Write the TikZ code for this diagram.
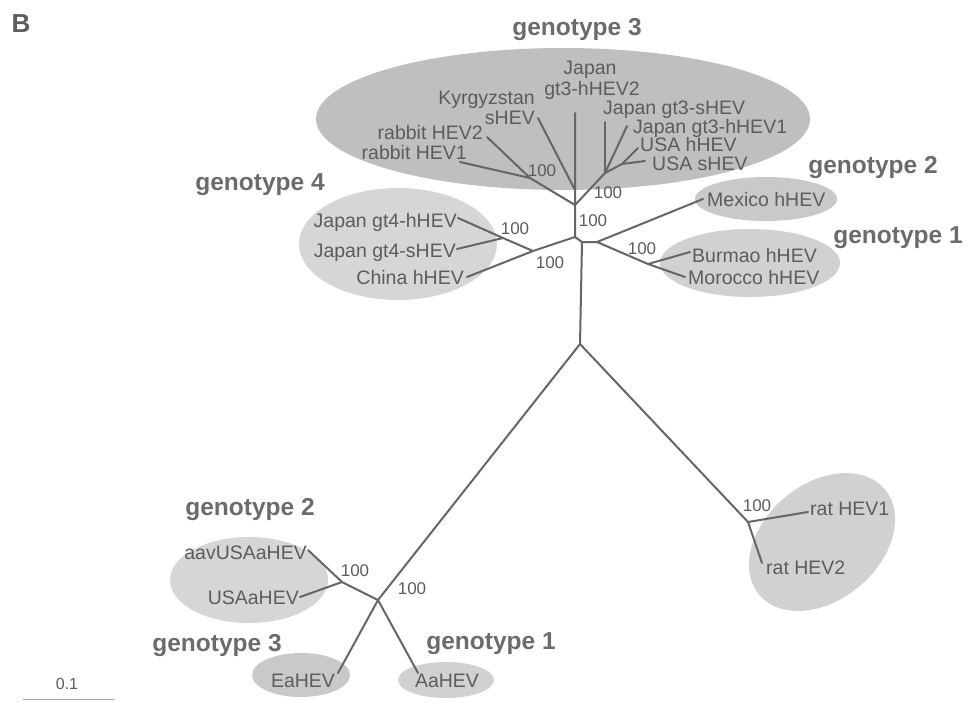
\documentclass[tikz,border=0pt]{standalone}
\usepackage{fontspec}
\setmainfont{Liberation Sans}
\definecolor{txtgray}{gray}{0.36}
\definecolor{genogray}{gray}{0.42}
\definecolor{linegray}{gray}{0.40}
\definecolor{fillA}{gray}{0.75}
\definecolor{fillB}{gray}{0.84}
\definecolor{fillC}{gray}{0.79}
\definecolor{fillD}{gray}{0.82}
\begin{document}
\begin{tikzpicture}[x=1pt,y=-1pt,
  lbl/.style={inner sep=0pt, text=txtgray, font=\fontsize{19.5}{22}\selectfont, text height=14pt, text depth=0pt},
  num/.style={inner sep=0pt, text=txtgray, font=\fontsize{17}{19}\selectfont, text height=12.2pt, text depth=0pt},
  geno/.style={inner sep=0pt, text=genogray, font=\bfseries\fontsize{24.5}{27}\selectfont, text height=17.6pt, text depth=0pt},
  br/.style={draw=linegray, line width=2pt, line cap=round, line join=round}]
\useasboundingbox (0,0) rectangle (968,702);
\fill[white] (0,0) rectangle (968,702);

% clade ellipses
\fill[fillA] (563,119) ellipse [x radius=247, y radius=71];
\fill[fillB] (398,244) ellipse [x radius=99, y radius=56];
\fill[fillC] (766,199) ellipse [x radius=71, y radius=22];
\fill[fillD] (750,263) ellipse [x radius=90, y radius=34];
\fill[fillD, rotate around={40:(822,542)}] (822,542) ellipse [x radius=82pt, y radius=58pt];
\fill[fillB] (249,580) ellipse [x radius=79, y radius=43];
\fill[fillC] (301,675) ellipse [x radius=49, y radius=22];
\fill[fillD] (446,680) ellipse [x radius=48, y radius=18];

% tree coordinates
\coordinate (T) at (580,344);
\coordinate (C1) at (582,242);
\coordinate (C0) at (575,237);
\coordinate (C2) at (597,242);
\coordinate (G3) at (575,205);
\coordinate (J1) at (575,190);
\coordinate (Rb) at (530,178);
\coordinate (lRb1) at (460,162);
\coordinate (lRb2) at (487,137);
\coordinate (lKy) at (538,118);
\coordinate (lJ2) at (575,113);
\coordinate (J3) at (605,173);
\coordinate (lJs) at (605,122);
\coordinate (lJh1) at (627,126);
\coordinate (J4) at (622,164);
\coordinate (lUh) at (638,148);
\coordinate (lUs) at (645,161);
\coordinate (G4) at (533,251);
\coordinate (G4a) at (503,238);
\coordinate (lJ4h) at (458,218);
\coordinate (lJ4s) at (457,249);
\coordinate (lCh) at (467,277);
\coordinate (lMx) at (703,199);
\coordinate (G1) at (648,264);
\coordinate (lBu) at (690,252);
\coordinate (lMo) at (685,277);
\coordinate (A) at (378,600);
\coordinate (A2) at (342,582);
\coordinate (lAav) at (308,550);
\coordinate (lUSAa) at (300,597);
\coordinate (lEa) at (338,673);
\coordinate (lAa) at (418,673);
\coordinate (Rt) at (748,522);
\coordinate (lR1) at (808,512);
\coordinate (lR2) at (762,563);

% branches
\draw[br] (lJ2) -- (G3) -- (C0) -- (C1) -- (T);
\draw[br] (lKy) -- (J1);
\draw[br] (lRb1) -- (Rb) -- (G3);
\draw[br] (lRb2) -- (Rb);
\draw[br] (G3) -- (J3) -- (J4) -- (lUs);
\draw[br] (J3) -- (lJs);
\draw[br] (J3) -- (lJh1);
\draw[br] (J4) -- (lUh);
\draw[br] (C0) -- (G4) -- (lCh);
\draw[br] (G4) -- (G4a) -- (lJ4h);
\draw[br] (G4a) -- (lJ4s);
\draw[br] (C1) -- (C2) -- (lMx);
\draw[br] (C2) -- (G1) -- (lMo);
\draw[br] (G1) -- (lBu);
\draw[br] (T) -- (A) -- (A2) -- (lAav);
\draw[br] (A2) -- (lUSAa);
\draw[br] (A) -- (lEa);
\draw[br] (A) -- (lAa);
\draw[br] (T) -- (Rt) -- (lR1);
\draw[br] (Rt) -- (lR2);

% leaf labels
\node[lbl, anchor=east] (tRb1) at (467,152) {rabbit HEV1};
\node[lbl, anchor=east] (tRb2) at (483,132) {rabbit HEV2};
\node[lbl, anchor=east] (tKy1) at (535,97) {Kyrgyzstan};
\node[lbl, anchor=east] (tKy2) at (535,117) {sHEV};
\node[lbl] (tJ2a) at (590,67) {Japan};
\node[lbl] (tJ2b) at (592,88) {gt3-hHEV2};
\node[lbl, anchor=west] (tJs) at (603,107) {Japan gt3-sHEV};
\node[lbl, anchor=west] (tJh1) at (633,126) {Japan gt3-hHEV1};
\node[lbl, anchor=west] (tUh) at (640,144) {USA hHEV};
\node[lbl, anchor=west] (tUs) at (652,163) {USA sHEV};
\node[lbl, anchor=east] (tJ4h) at (457,220) {Japan gt4-hHEV};
\node[lbl, anchor=east] (tJ4s) at (456,250) {Japan gt4-sHEV};
\node[lbl, anchor=east] (tCh) at (464,277) {China hHEV};
\node[lbl, anchor=west] (tMx) at (707,199) {Mexico hHEV};
\node[lbl, anchor=west] (tBu) at (692,255) {Burmao hHEV};
\node[lbl, anchor=west] (tMo) at (688,277) {Morocco hHEV};
\node[lbl, anchor=west] (tR1) at (810,508) {rat HEV1};
\node[lbl, anchor=west] (tR2) at (766,567) {rat HEV2};
\node[lbl, anchor=east] (tAav) at (307,552) {aavUSAaHEV};
\node[lbl, anchor=east] (tUSAa) at (299,597) {USAaHEV};
\node[lbl] (tEa) at (303,680) {EaHEV};
\node[lbl] (tAa) at (447,680) {AaHEV};

% bootstrap values
\node[num] (b1) at (542,170) {100};
\node[num] (b2) at (608,192) {100};
\node[num] (b3) at (593,220) {100};
\node[num] (b4) at (515,228) {100};
\node[num] (b5) at (550,262) {100};
\node[num] (b6) at (642,248) {100};
\node[num] (b7) at (355,570) {100};
\node[num] (b8) at (412,588) {100};
\node[num] (b9) at (757,505) {100};

% genotype labels
\node[geno] (g3) at (577,27) {genotype 3};
\node[geno] (g4) at (260,182) {genotype 4};
\node[geno] (g2) at (873,165) {genotype 2};
\node[geno] (g1) at (898,235) {genotype 1};
\node[geno] (ag2) at (250,507) {genotype 2};
\node[geno] (ag3) at (217,643) {genotype 3};
\node[geno] (ag1) at (491,641) {genotype 1};

% panel letter and scale bar
\node[inner sep=0pt, text=txtgray, font=\bfseries\fontsize{26}{30}\selectfont, text height=18.7pt, text depth=0pt] (pB) at (21,23) {B};
\node[inner sep=0pt, text=txtgray, font=\fontsize{16}{18}\selectfont, text height=11.5pt, text depth=0pt] (sc) at (67,684) {0.1};
\coordinate (s1) at (23,699);
\coordinate (s2) at (115,699);
\draw[draw=gray!70, line width=1pt] (s1) -- (s2);
\end{tikzpicture}
\end{document}
